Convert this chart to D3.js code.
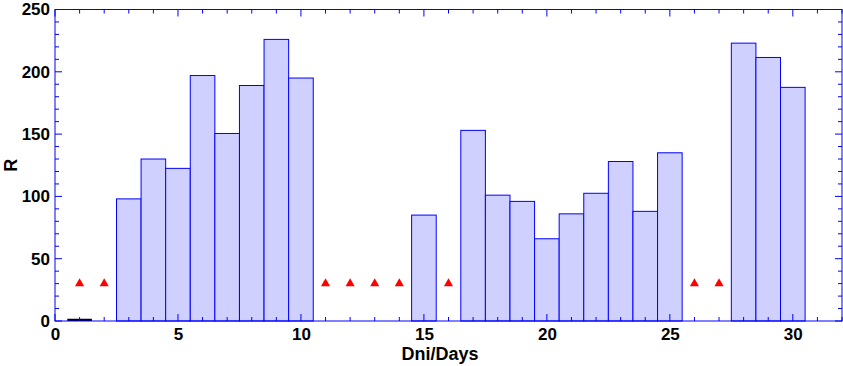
<!DOCTYPE html>
<html><head><meta charset="utf-8">
<script src="https://cdn.jsdelivr.net/npm/d3@7"></script>
<style>body{margin:0;background:#fff}svg{display:block}</style>
</head><body><svg id="c" width="843" height="366"></svg>
<script>
const barDays = [3,4,5,6,7,8,9,10,15,17,18,19,20,21,22,23,24,25,28,29,30];
const barValues = [98,130,122.5,197,150.5,189,226,195,85,153,101,96,66,86,102.5,128,88,135,223,211.5,187.5];
const zeroDays = [1];
const zeroValues = [1];
const markerDays = [1,2,11,12,13,14,16,26,27];
const markerValues = [30,30,30,30,30,30,30,30,30];
const xTicks = [0,5,10,15,20,25,30];
const yTicks = [0,50,100,150,200,250];

const svg = d3.select("#c");
const L=55, R=842, T=9.5, B=321;
const x = d3.scaleLinear().domain([0,32]).range([L,R]);
const y = d3.scaleLinear().domain([0,250]).range([B,T]);
const blue = "#0000ff";
const font = "'Liberation Sans', Arial, sans-serif";

svg.append("g").selectAll("rect").data(barDays).join("rect")
  .attr("x", d=>x(d-0.5)).attr("width", d=>x(d+0.5)-x(d-0.5))
  .attr("y", (d,i)=>y(barValues[i])).attr("height",(d,i)=>y(0)-y(barValues[i]))
  .attr("fill","#d0d0ff").attr("stroke",blue).attr("stroke-width",1);

svg.append("g").selectAll("rect").data(zeroDays).join("rect")
  .attr("x", d=>x(d-0.5)).attr("width", d=>x(d+0.5)-x(d-0.5))
  .attr("y", (d,i)=>y(zeroValues[i])-1).attr("height",(d,i)=>y(0)-y(zeroValues[i])+1)
  .attr("fill","#000");

const tri = d3.symbol().type(d3.symbolTriangle).size(36);
svg.append("g").selectAll("path").data(markerDays).join("path")
  .attr("d", tri)
  .attr("transform",(d,i)=>`translate(${x(d)},${y(markerValues[i])})`)
  .attr("fill","#ff0000");

svg.append("rect").attr("x",L).attr("y",T).attr("width",R-L).attr("height",B-T)
  .attr("fill","none").attr("stroke",blue).attr("stroke-width",1);

const xMinor = d3.range(0,33,1), yMinor = d3.range(0,251,10);
const tg = svg.append("g").attr("stroke",blue).attr("stroke-width",1);
xMinor.forEach(v=>{
  const len = v%5===0 ? 7 : 4;
  tg.append("line").attr("x1",x(v)).attr("x2",x(v)).attr("y1",B).attr("y2",B-len);
  tg.append("line").attr("x1",x(v)).attr("x2",x(v)).attr("y1",T).attr("y2",T+len);
});
yMinor.forEach(v=>{
  const len = v%50===0 ? 7 : 4;
  tg.append("line").attr("x1",L).attr("x2",L+len).attr("y1",y(v)).attr("y2",y(v));
  tg.append("line").attr("x1",R).attr("x2",R-len).attr("y1",y(v)).attr("y2",y(v));
});

const xa = svg.append("g").attr("transform",`translate(0,${B})`)
  .call(d3.axisBottom(x).tickValues(xTicks).tickSize(0).tickPadding(7).tickFormat(d3.format("d")));
const ya = svg.append("g").attr("transform",`translate(${L},0)`)
  .call(d3.axisLeft(y).tickValues(yTicks).tickSize(0).tickPadding(5).tickFormat(d3.format("d")));
[xa,ya].forEach(a=>{
  a.select(".domain").remove();
  a.selectAll("text").attr("font-family",font).attr("font-size",17).attr("font-weight","bold").attr("fill","#000");
});

svg.append("text").attr("x",440).attr("y",360).attr("text-anchor","middle")
  .attr("font-family",font).attr("font-size",18).attr("font-weight","bold").text("Dni/Days");
svg.append("text").attr("transform",`translate(17,${(T+B)/2}) rotate(-90)`).attr("text-anchor","middle")
  .attr("font-family",font).attr("font-size",18).attr("font-weight","bold").text("R");
</script></body></html>
